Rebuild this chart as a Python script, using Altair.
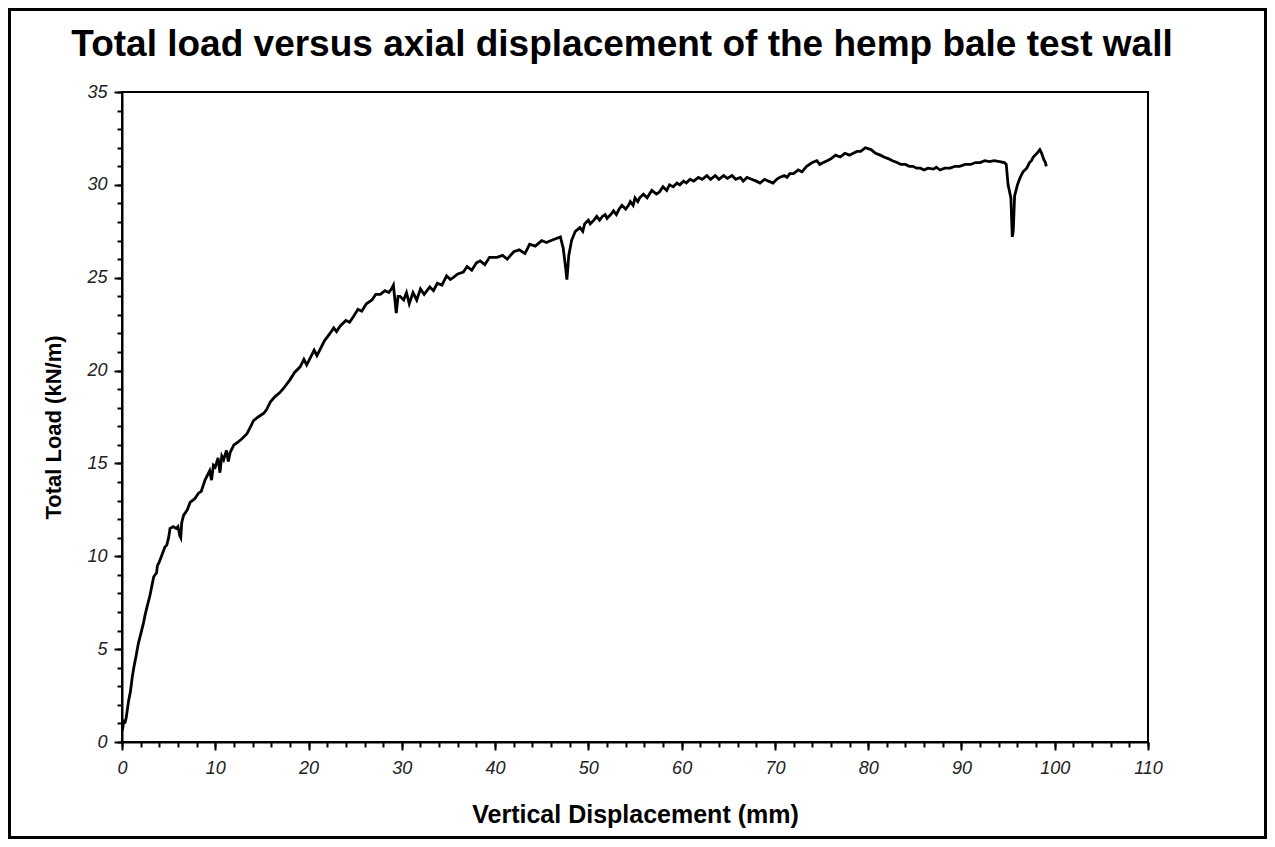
import altair as alt
import pandas as pd

# Vertical displacement (mm), rising part
disp_head = [0.0, 0.1, 0.2, 0.3, 0.45, 0.7, 0.9, 1.1, 1.3, 1.5, 1.75, 2.0, 2.3, 2.5, 2.7, 3.0, 3.2, 3.4,
             3.7, 3.8, 4.0, 4.3, 4.6, 4.8, 5.0, 5.15, 5.5, 5.8, 6.0, 6.2, 6.3, 6.4, 6.6, 7.0, 7.3, 7.8,
             8.2, 8.5, 8.9, 9.1, 9.4, 9.6, 9.8, 10.0, 10.3, 10.5, 10.7, 10.9, 11.2, 11.4, 11.6, 12.0,
             12.3, 12.8, 13.4, 13.8, 14.1, 14.6, 15.2, 15.5, 15.9, 16.4, 16.9, 17.4, 18.0, 18.5, 19.1,
             19.5, 19.8, 20.2, 20.6, 20.9, 21.2, 21.7, 22.0, 22.3, 22.7, 23.0, 23.4, 24.0, 24.4, 24.8,
             25.3, 25.7, 26.2, 26.8, 27.2, 27.7, 28.2, 28.6, 28.9, 29.1, 29.3, 29.4, 29.6, 29.8, 30.2,
             30.5, 30.8, 31.2, 31.6, 32.0, 32.4, 33.0, 33.4, 33.8, 34.3, 34.8, 35.2, 35.5, 36.0, 36.6,
             37.0, 37.5, 38.0, 38.4, 38.9, 39.4, 40.2, 40.8, 41.3, 42.0, 42.6, 43.2, 43.7, 44.3, 45.0,
             45.5, 46.0, 46.5, 47.0, 47.3, 47.5, 47.7, 47.9, 48.2]

# Total load (kN/m), rising part
load_head = [0.6, 0.8, 1.2, 1.0, 1.3, 2.2, 2.7, 3.5, 4.1, 4.6, 5.3, 5.8, 6.4, 6.9, 7.3, 7.9, 8.4, 8.9,
             9.1, 9.5, 9.7, 10.1, 10.5, 10.6, 11.0, 11.5, 11.6, 11.5, 11.6, 11.1, 11.0, 11.8, 12.2, 12.5,
             12.9, 13.1, 13.4, 13.5, 14.1, 14.3, 14.6, 14.1, 14.9, 14.8, 15.3, 14.5, 15.4, 15.2, 15.7,
             15.1, 15.6, 16.0, 16.1, 16.3, 16.6, 17.0, 17.3, 17.5, 17.7, 17.9, 18.3, 18.6, 18.8, 19.1,
             19.5, 19.9, 20.2, 20.6, 20.3, 20.7, 21.1, 20.8, 21.1, 21.6, 21.8, 22.0, 22.3, 22.1, 22.4,
             22.7, 22.6, 22.9, 23.3, 23.2, 23.6, 23.8, 24.1, 24.1, 24.3, 24.2, 24.4, 24.6, 23.6, 23.1,
             24.0, 24.0, 23.8, 24.2, 23.6, 24.2, 23.8, 24.4, 24.1, 24.5, 24.3, 24.7, 24.6, 25.1, 24.9,
             25.0, 25.2, 25.3, 25.6, 25.4, 25.8, 25.9, 25.7, 26.1, 26.1, 26.2, 26.0, 26.4, 26.5, 26.3,
             26.8, 26.7, 27.0, 26.9, 27.0, 27.1, 27.2, 26.6, 25.8, 24.9, 26.2, 27.0]

# Vertical displacement (mm), plateau part
disp_tail = [48.6, 49.1, 49.4, 49.6, 50.0, 50.2, 50.6, 50.9, 51.2, 51.5,
             51.8, 52.0, 52.4, 52.7, 53.0, 53.3, 53.6, 54.0, 54.3, 54.5,
             54.8, 55.0, 55.3, 55.5, 55.9, 56.3, 56.8, 57.3, 57.6, 58.0,
             58.4, 58.7, 59.1, 59.5, 59.8, 60.2, 60.5, 60.9, 61.3, 61.8,
             62.2, 62.7, 63.1, 63.6, 64.0, 64.5, 64.9, 65.4, 65.8, 66.3,
             66.6, 67.0, 67.5, 68.0, 68.4, 68.9, 69.3, 69.8, 70.2, 70.5,
             71.0, 71.3, 71.6, 72.0, 72.5, 72.9, 73.4, 74.0, 74.5, 74.8,
             75.2, 75.6, 76.0, 76.5, 77.0, 77.5, 78.0, 78.4, 78.8, 79.2,
             79.7, 80.3, 80.8, 81.3, 81.7, 82.2, 82.6, 83.1, 83.5, 84.0,
             84.4, 84.8, 85.2, 85.6, 86.0, 86.4, 87.0, 87.3, 87.7, 88.2,
             88.8, 89.3, 89.8, 90.4, 91.0, 91.5, 92.0, 92.5, 93.0, 93.5,
             94.1, 94.6, 94.8, 95.0, 95.3, 95.45, 95.55, 95.7, 96.0, 96.3,
             96.6, 97.0, 97.3, 97.5, 97.7, 98.1, 98.4, 98.6, 98.8, 99.0,
             99.1]

# Total load (kN/m), plateau part
load_tail = [27.5, 27.7, 27.5, 27.9, 28.1, 27.9, 28.1, 28.3, 28.1, 28.3,
             28.4, 28.2, 28.4, 28.6, 28.4, 28.7, 28.9, 28.7, 28.9, 29.1,
             28.9, 29.3, 29.1, 29.3, 29.5, 29.3, 29.7, 29.5, 29.6, 29.9,
             29.7, 30.0, 29.9, 30.1, 30.0, 30.2, 30.1, 30.3, 30.2, 30.4,
             30.3, 30.5, 30.3, 30.5, 30.3, 30.5, 30.35, 30.5, 30.3, 30.4,
             30.2, 30.4, 30.3, 30.2, 30.1, 30.3, 30.2, 30.1, 30.3, 30.4,
             30.5, 30.4, 30.6, 30.6, 30.8, 30.7, 31.0, 31.2, 31.3, 31.1,
             31.2, 31.3, 31.4, 31.6, 31.5, 31.7, 31.6, 31.7, 31.8, 31.8,
             32.0, 31.9, 31.7, 31.6, 31.5, 31.4, 31.3, 31.2, 31.1, 31.1,
             31.0, 31.0, 30.9, 30.9, 30.8, 30.9, 30.85, 30.95, 30.8, 30.9,
             30.9, 31.0, 31.0, 31.1, 31.1, 31.2, 31.2, 31.3, 31.25, 31.3,
             31.25, 31.2, 31.1, 30.0, 29.3, 27.2, 27.5, 29.4, 30.0, 30.4,
             30.7, 30.9, 31.2, 31.3, 31.5, 31.7, 31.9, 31.7, 31.4, 31.2,
             31.0]

disp = disp_head + disp_tail
load = load_head + load_tail
n = min(len(disp), len(load))
disp, load = disp[:n], load[:n]

x_major = list(range(0, 111, 10))
x_minor = list(range(0, 111, 2))
y_major = list(range(0, 36, 5))
y_minor = list(range(0, 36, 1))

df = pd.DataFrame({"disp": disp, "load": load, "order": list(range(n))})

W, H = 1026, 650
PAD_L, PAD_T = 114, 84
TOTAL_W, TOTAL_H = 1259, 831

label_font = "Liberation Sans"

x_scale = alt.Scale(domain=[0, 110], nice=False, zero=False)
y_scale = alt.Scale(domain=[0, 35], nice=False, zero=False)

line = alt.Chart(df).mark_line(color="black", strokeWidth=2.8, clip=True).encode(
    x=alt.X("disp:Q", scale=x_scale,
            axis=alt.Axis(values=x_major, tickSize=8, tickWidth=2, domainWidth=2,
                          domainColor="black", tickColor="black", grid=False,
                          labelFont=label_font, labelFontStyle="italic", labelFontSize=18,
                          labelColor="#222", labelPadding=9, labelFlush=False,
                          title="Vertical Displacement (mm)", titleFont=label_font,
                          titleFontWeight="bold", titleFontSize=25, titleColor="black",
                          titlePadding=25, orient="bottom")),
    y=alt.Y("load:Q", scale=y_scale,
            axis=alt.Axis(values=y_major, tickSize=8, tickWidth=2, domainWidth=2,
                          domainColor="black", tickColor="black", grid=False,
                          labelFont=label_font, labelFontStyle="italic", labelFontSize=18,
                          labelColor="#222", labelPadding=7, labelFlush=False,
                          title="Total Load (kN/m)", titleFont=label_font,
                          titleFontWeight="bold", titleFontSize=22, titleColor="black",
                          titleX=-57, titleY=335, orient="left")),
    order="order:Q",
)

minor = alt.Chart(df).mark_point(opacity=0).encode(
    x=alt.X("disp:Q", scale=x_scale,
            axis=alt.Axis(values=x_minor, tickSize=5, tickWidth=2, domain=False, labels=False,
                          tickColor="black", grid=False, title=None, orient="bottom")),
    y=alt.Y("load:Q", scale=y_scale,
            axis=alt.Axis(values=y_minor, tickSize=5, tickWidth=2, domain=False, labels=False,
                          tickColor="black", grid=False, title=None, orient="left")),
)

frame = alt.Chart(df).mark_rect(filled=False, stroke="black", strokeWidth=3, clip=False).encode(
    x=alt.value(-PAD_L + 1.5), x2=alt.value(TOTAL_W - PAD_L - 1.5),
    y=alt.value(-PAD_T + 1.5), y2=alt.value(TOTAL_H - PAD_T - 1.5),
)

chart = alt.layer(frame, minor, line).resolve_axis(x="independent", y="independent").properties(
    width=W, height=H,
    background="white",
    autosize=alt.AutoSizeParams(type="none"),
    padding={"left": PAD_L, "top": PAD_T, "right": TOTAL_W - PAD_L - W, "bottom": TOTAL_H - PAD_T - H},
    title=alt.TitleParams(
        "Total load versus axial displacement of the hemp bale test wall",
        font=label_font, fontWeight="bold", fontSize=37, color="black",
        anchor="middle", offset=-56, dx=-13,
    ),
).configure_view(stroke="black", strokeWidth=2)

chart.save("out.html", embed_options={"renderer": "svg", "actions": False})
